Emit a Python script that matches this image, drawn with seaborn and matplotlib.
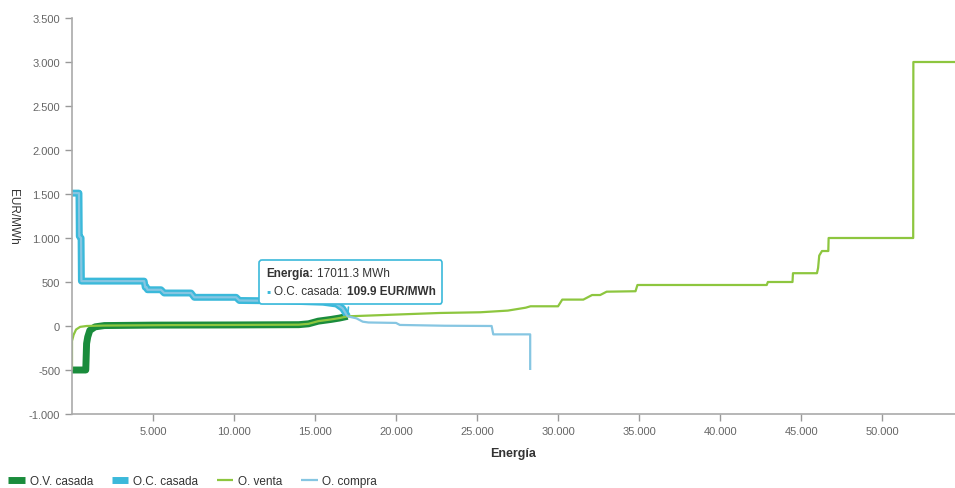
import numpy as np
import pandas as pd
import matplotlib.pyplot as plt
import matplotlib.ticker as mticker
from matplotlib.offsetbox import TextArea, HPacker, VPacker, AnnotationBbox
import seaborn as sns

sns.set_style("white")
plt.rcParams["font.family"] = ["Liberation Sans", "DejaVu Sans"]

# =========================================================
# DATA
# =========================================================
# O.V. casada - matched supply
ov_casada_x = [0, 850, 900, 970, 1100, 1420, 2000, 5000, 10000, 14000, 14600,
               15200, 15600, 16000, 16500, 17011.3]
ov_casada_y = [-500, -500, -200, -125, -50, -10, 5, 10, 12, 15, 25,
               55, 65, 75, 90, 109.9]

# O.C. casada - matched demand
oc_casada_x = [0, 430, 450, 560, 580, 4455, 4520, 4600, 4660, 5490, 5690, 7345,
               7550, 10130, 10330, 13000, 15500, 16320, 16700, 17011.3]
oc_casada_y = [1510, 1510, 1020, 1000, 510, 510, 440, 440, 412, 412, 375, 375,
               326, 326, 290, 285, 270, 250, 200, 109.9]

# O. venta - full supply curve
venta_x = [0, 0, 100, 250, 500, 900, 2000, 6000, 10000, 14000, 14600, 15200,
           16000, 16500, 17011.3, 17800, 20000, 22700, 25200, 26900, 28000,
           28300, 30000, 30260, 31560, 32100, 32600, 33000, 34780, 34900,
           42880, 42950, 44470, 44500, 45980, 46050, 46120, 46290, 46680,
           46700, 51920, 51930, 54500]
venta_y = [-500, -170, -100, -40, -10, 0, 5, 10, 12, 15, 25, 55,
           75, 90, 109.9, 115, 130, 148, 156, 175, 208,
           224, 224, 300, 300, 352, 352, 390, 395, 466,
           466, 500, 500, 600, 600, 660, 800, 852, 852,
           1000, 1000, 3000, 3000]

# O. compra - full demand curve
compra_x = oc_casada_x + [17556, 17946, 18300, 20000, 20235, 23000, 25900,
                          26000, 28280, 28280]
compra_y = oc_casada_y + [87, 49, 40, 35, 12, 3, 0,
                          -95, -95, -500]

series = [
    ("O.V. casada", ov_casada_x, ov_casada_y, "#1a8c3c", 5),
    ("O.C. casada", oc_casada_x, oc_casada_y, "#3bb9da", 5),
    ("O. venta", venta_x, venta_y, "#8dc63f", 1.6),
    ("O. compra", compra_x, compra_y, "#86c6e2", 1.6),
]

# =========================================================
# PLOT
# =========================================================
fig = plt.figure(figsize=(9.55, 4.89), dpi=100)
ax = fig.add_axes([72 / 955, 1 - 415 / 489, 1 - 72 / 955, (415 - 19) / 489])

for name, xs, ys, col, lw in series:
    sns.lineplot(x=xs, y=ys, estimator=None, sort=False, color=col,
                 linewidth=lw, label=name, ax=ax, solid_capstyle="butt")

ax.set_xlim(0, 54500)
ax.set_ylim(-1000, 3500)
ax.set_xticks(np.arange(5000, 50001, 5000))
ax.set_yticks(np.arange(-1000, 3501, 500))
fmt = mticker.FuncFormatter(lambda v, p: f"{v:,.0f}".replace(",", "."))
ax.xaxis.set_major_formatter(fmt)
ax.yaxis.set_major_formatter(fmt)
ax.tick_params(axis="both", labelsize=8, colors="#999999", labelcolor="#666666",
               length=5, width=1, direction="out", left=True, bottom=True)

for side in ["top", "right"]:
    ax.spines[side].set_visible(False)
for side in ["left", "bottom"]:
    ax.spines[side].set_color("#aaaaaa")
    ax.spines[side].set_linewidth(1.2)

ax.set_xlabel("Energía", fontsize=9, fontweight="bold", color="#333333", labelpad=8)
ax.set_ylabel("EUR/MWh", fontsize=8.5, color="#333333", rotation=270)
ax.yaxis.set_label_coords(-0.074, 0.5)

# --- tooltip ---
bold = dict(fontsize=8.5, fontweight="bold", color="#333333")
norm = dict(fontsize=8.5, color="#333333")
line1 = HPacker(children=[TextArea("Energía:", textprops=bold),
                          TextArea("17011.3 MWh", textprops=norm)], pad=0, sep=3)
line2 = HPacker(children=[TextArea("\u25aa", textprops=dict(fontsize=8.5, color="#3bb9da")),
                          TextArea("O.C. casada:", textprops=norm),
                          TextArea("109.9 EUR/MWh", textprops=bold)], pad=0, sep=3)
tip = VPacker(children=[line1, line2], pad=0, sep=4)
ab = AnnotationBbox(tip, (17011.3, 109.9), xybox=(17200, 500), xycoords="data",
                    boxcoords="data", box_alignment=(0.5, 0.5),
                    bboxprops=dict(boxstyle="round,pad=0.5,rounding_size=0.2",
                                   fc="white", ec="#3bb9da", lw=1.2),
                    arrowprops=dict(arrowstyle="-", color="#3bb9da", lw=1.2))
ax.add_artist(ab)

# --- legend ---
handles, labels = ax.get_legend_handles_labels()
ax.get_legend().remove()
fig.legend(handles, labels, loc="center left", bbox_to_anchor=(0.0, 1 - 482 / 489),
           ncol=4, frameon=False, fontsize=8.5, handlelength=1.4, borderpad=0.2,
           handletextpad=0.4, columnspacing=1.6, labelcolor="#333333")

fig.savefig("out.png", dpi=100)
